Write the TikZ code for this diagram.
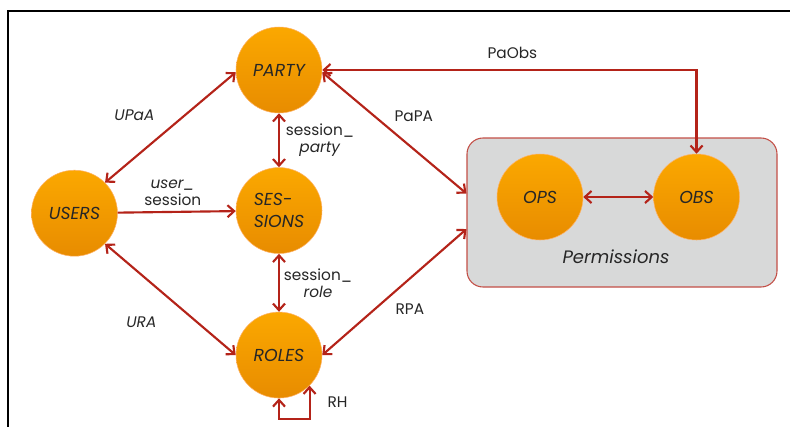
\documentclass[tikz,border=0pt]{standalone}
\usepackage{fontspec}
\setmainfont{Poppins}
\usetikzlibrary{positioning,arrows.meta}
\definecolor{linkred}{RGB}{180,35,25}
\definecolor{balltop}{RGB}{251,168,0}
\definecolor{ballbottom}{RGB}{232,140,0}
\definecolor{permgray}{RGB}{216,217,217}
\begin{document}
\begin{tikzpicture}[
        x=0.75pt, y=-0.75pt,
        entity/.style={circle, minimum size=64.5pt, inner sep=0pt, top color=balltop, bottom color=ballbottom,
                draw=orange!60, thin, text=black!85, font=\fontsize{13}{16}\selectfont\itshape, align=center},
        permbox/.style={draw=linkred!80, fill=permgray, rounded corners=12pt, line width=0.8pt,
                minimum width=232.5pt, minimum height=111.75pt},
        link/.style={color=linkred, line width=1.6pt,
                {Straight Barb[length=5pt,width=9pt]}-{Straight Barb[length=5pt,width=9pt]}},
        lbl/.style={text=black!85, inner sep=1pt, font=\fontsize{11.5}{12.75}\selectfont, align=center},
        node distance=40.5pt
        ]
        \useasboundingbox (0,0) rectangle (790,426);
        \draw[line width=1.4pt] (8,430) -- (8,11) -- (795,11);

        \node[permbox]                      (perm)  at (622,212.5)              {};
        \node[lbl, font=\fontsize{13.5}{15}\selectfont\itshape] (permtxt) at (616,257) {Permissions};

        \node[entity]                       (party) at (279,70)                 {PARTY};
        \node[entity, align=left]           (sessions) [below         =of party]    {SES-\\SIONS};
        \node[entity]                       (roles) [below=43.5pt of sessions]      {ROLES};
        \node[entity]                       (users) [left=88.5pt of sessions, yshift=-2pt] {USERS};
        \node[entity]                       (ops)   at (540,197)                {OPS};
        \node[entity]                       (obs)   [right=52.5pt of ops]       {OBS};

        \path[link]
        (party)     edge    node[lbl, midway, xshift=30.75pt]    {session\_\\\textit{party}}  (sessions)
        (sessions)  edge    node[lbl, midway, xshift=29.25pt]    {session\_\\\textit{role}}   (roles)
        (party.183) edge    node[lbl, midway, xshift=-27pt, yshift=9.4pt]   {\textit{UPaA}}   (users.45)
        (users.315) edge    node[lbl, midway, xshift=-21.75pt, yshift=-17.25pt] {\textit{URA}} (roles.180)
        (party.357) edge    node[lbl, midway, xshift=14.6pt, yshift=12.75pt] {PaPA}   ([yshift=14.25pt]perm.west)
        (roles.0)   edge    node[lbl, midway, xshift=11.6pt, yshift=-13.1pt] {RPA}    ([yshift=-12.4pt]perm.west)
        (ops)       edge    node    {}  (obs);

        \draw[link, -{Straight Barb[length=5pt,width=9pt]}] (users) --
                node[lbl, midway, xshift=-3pt, yshift=14.6pt] {\textit{user\_}\\session} (sessions);
        \draw[link] (party.east) -| node[lbl, pos=.25, xshift=2.25pt, yshift=12.75pt] {PaObs} (obs.north);
        \draw[link] (roles.south) -- ++(0,21) -| node[lbl, pos=.75, xshift=21pt] {RH} (roles.315);
    \end{tikzpicture}
\end{document}
